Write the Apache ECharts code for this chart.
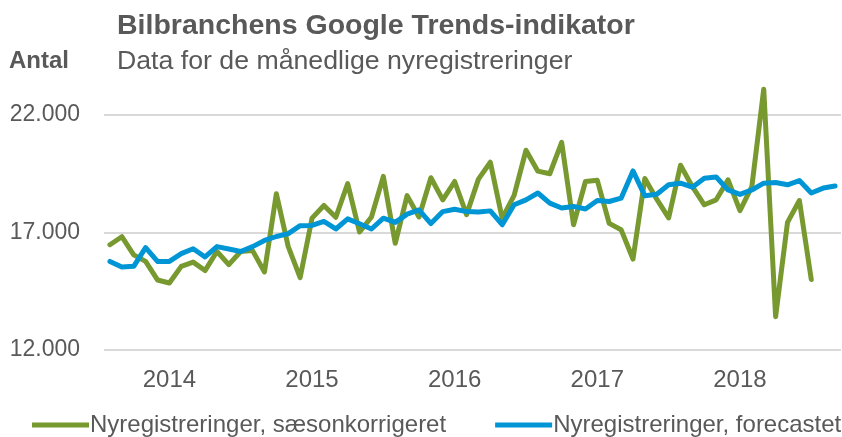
<!DOCTYPE html>
<html>
<head>
<meta charset="utf-8">
<script src="https://cdn.jsdelivr.net/npm/echarts@6/dist/echarts.min.js"></script>
<style>html,body{margin:0;padding:0;background:#fff}#c{width:842px;height:437px}</style>
</head>
<body>
<div id="c"></div>
<script>
// Data
var startYear = 2014;
var monthCount = 62;
var yearLabels = ['2014', '2015', '2016', '2017', '2018'];
var seriesNames = ['Nyregistreringer, sæsonkorrigeret', 'Nyregistreringer, forecastet'];
var saeson = [16480, 16820, 16050, 15770, 14980, 14850, 15560, 15740, 15380, 16190, 15630, 16190,
  16230, 15320, 18650, 16400, 15080, 17610, 18150, 17650, 19080, 17020, 17660, 19390,
  16540, 18570, 17660, 19330, 18390, 19170, 17760, 19270, 19990, 17600, 18580, 20500,
  19610, 19500, 20840, 17330, 19170, 19220, 17390, 17120, 15870, 19300, 18420, 17620,
  19860, 18950, 18180, 18390, 19240, 17930, 18950, 23100, 13420, 17430, 18360, 15000];
var forecast = [15770, 15530, 15560, 16360, 15770, 15770, 16100, 16310, 15960, 16400, 16300, 16190,
  16400, 16660, 16830, 16950, 17290, 17300, 17470, 17150, 17580, 17370, 17150, 17610,
  17430, 17780, 17960, 17380, 17890, 17990, 17890, 17870, 17920, 17330, 18180, 18390,
  18680, 18250, 18040, 18110, 18000, 18360, 18320, 18460, 19620, 18560, 18630, 19030,
  19100, 18930, 19310, 19360, 18810, 18620, 18810, 19100, 19130, 19030, 19210, 18680,
  18890, 18980];
var yTicks = [12000, 17000, 22000];

var categories = [];
for (var i = 0; i < monthCount; i++) {
  var y = startYear + Math.floor(i / 12);
  var m = (i % 12) + 1;
  categories.push(y + '-' + (m < 10 ? '0' + m : m));
}

var txt = '#595959';
var font = '"Liberation Sans", Arial, sans-serif';
var chart = echarts.init(document.getElementById('c'), null, {renderer: 'canvas'});
chart.setOption({
  animation: false,
  textStyle: {fontFamily: font},
  title: [
    {
      text: 'Bilbranchens Google Trends-indikator',
      subtext: 'Data for de månedlige nyregistreringer',
      left: 117, top: 10, itemGap: 3, padding: 0,
      textStyle: {fontFamily: font, fontSize: 28.5, fontWeight: 'bold', color: txt, lineHeight: 33},
      subtextStyle: {fontFamily: font, fontSize: 26.7, color: txt, lineHeight: 31}
    },
    {
      text: 'Antal', left: 9, top: 47, padding: 0,
      textStyle: {fontFamily: font, fontSize: 24, fontWeight: 'bold', color: txt, lineHeight: 28}
    }
  ],
  legend: {
    left: 32, top: 412, padding: 0, itemGap: 49,
    itemWidth: 57, itemHeight: 5, icon: 'rect',
    textStyle: {fontFamily: font, fontSize: 24, color: txt, lineHeight: 26, padding: [0, 0, 0, -4]},
    data: seriesNames
  },
  grid: {left: 104, width: 737, top: 115, height: 235, containLabel: false},
  xAxis: {
    type: 'category',
    data: categories,
    boundaryGap: true,
    axisLine: {show: false},
    axisTick: {show: false},
    splitLine: {show: false},
    axisLabel: {
      interval: 0, margin: 18, fontSize: 24, color: txt, fontFamily: font,
      formatter: function (v, idx) {
        if (idx % 12 === 5) return yearLabels[Math.floor(idx / 12)] || '';
        return '';
      }
    }
  },
  yAxis: {
    type: 'value',
    min: yTicks[0], max: yTicks[yTicks.length - 1], interval: 5000,
    axisLine: {show: false},
    axisTick: {show: false},
    splitLine: {lineStyle: {color: '#D9D9D9', width: 2}},
    axisLabel: {
      margin: 24, fontSize: 23, color: txt, fontFamily: font,
      formatter: function (v) { return String(v).replace(/\B(?=(\d{3})+(?!\d))/g, '.'); }
    }
  },
  series: [
    {
      name: seriesNames[0], type: 'line', data: saeson, clip: false,
      showSymbol: false, symbol: 'none', color: '#77992F',
      lineStyle: {width: 5, color: '#77992F', cap: 'round', join: 'round'}
    },
    {
      name: seriesNames[1], type: 'line', data: forecast, clip: false,
      showSymbol: false, symbol: 'none', color: '#0096D6',
      lineStyle: {width: 5, color: '#0096D6', cap: 'round', join: 'round'}
    }
  ]
});
</script>
</body>
</html>
